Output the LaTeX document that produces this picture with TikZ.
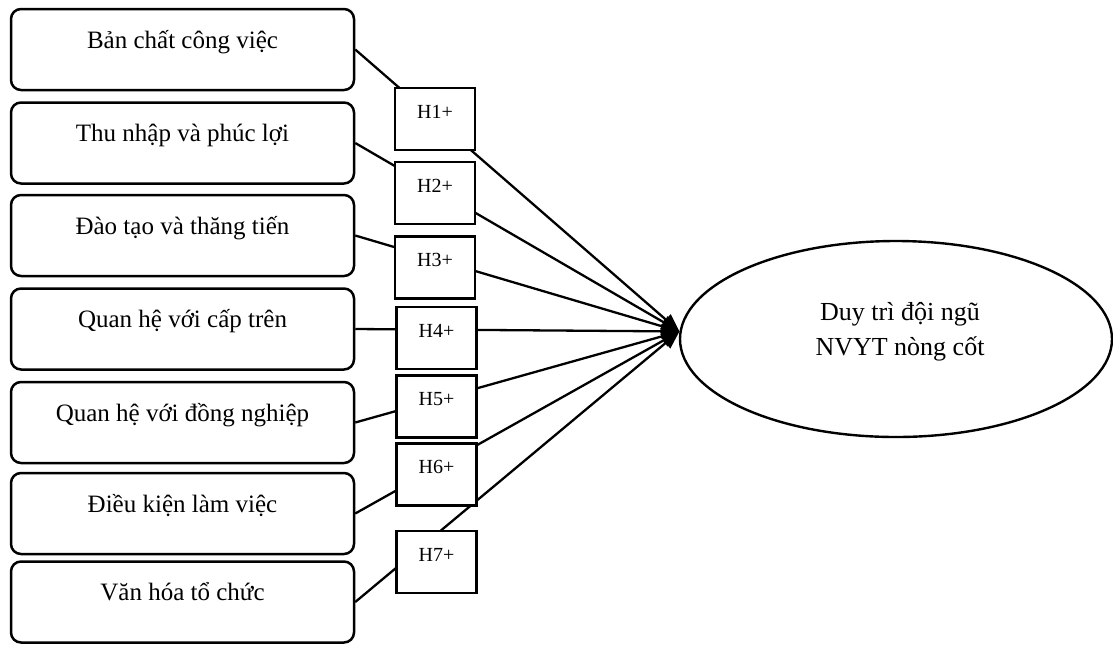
\documentclass[tikz,border=0pt]{standalone}
\usepackage{fontspec}
\setmainfont{Liberation Serif}
\usetikzlibrary{shapes.geometric,arrows.meta}

\begin{document}
\begin{tikzpicture}[x=0.5pt, y=-0.5pt,
    factor/.style={draw, line width=1.25pt, rounded corners=5pt, inner sep=0pt,
        minimum width=171.5pt, text height=19.5pt, text depth=21pt,
        font=\fontsize{12.5}{15}\selectfont},
    hyp/.style={draw, fill=white, line width=1.25pt, inner sep=0pt,
        minimum width=40pt, text height=15pt, text depth=16pt,
        font=\fontsize{10}{12}\selectfont},
    goal/.style={draw, ellipse, line width=1.2pt, minimum width=216pt, minimum height=98pt},
    link/.style={line width=1.15pt, -{Triangle[length=9pt, width=7pt]}}]
            \useasboundingbox (0, 0) rectangle (1113, 644);

            \node[factor] (F1) at (182.5, 49.5) {Bản chất công việc};
            \node[factor] (F2) at (182.5, 143) {Thu nhập và phúc lợi};
            \node[factor] (F3) at (182.5, 235.5) {Đào tạo và thăng tiến};
            \node[factor] (F4) at (182.5, 329) {Quan hệ với cấp trên};
            \node[factor] (F5) at (182.5, 422.5) {Quan hệ với đồng nghiệp};
            \node[factor] (F6) at (182.5, 513.5) {Điều kiện làm việc};
            \node[factor] (F7) at (182.5, 602) {Văn hóa tổ chức};

            \node[goal] (Y) at (896, 339) {};
            \node[align=center, font=\fontsize{13}{17.5}\selectfont] (Ytext) at (900, 332)
                {Duy trì đội ngũ\\NVYT nòng cốt};

            \draw[link] (F1.east) -- (Y.178);
            \draw[link] (F2.east) -- (Y.178);
            \draw[link] (F3.east) -- (Y.178);
            \draw[link] (F4.east) -- (Y.178);
            \draw[link] (F5.east) -- (Y.178);
            \draw[link] (F6.east) -- (Y.178);
            \draw[link] (F7.east) -- (Y.178);

            \node[hyp] (H1) at (435, 119) {H1+};
            \node[hyp] (H2) at (435, 193) {H2+};
            \node[hyp] (H3) at (435, 267.5) {H3+};
            \node[hyp] (H4) at (436.5, 338) {H4+};
            \node[hyp] (H5) at (436.5, 406.5) {H5+};
            \node[hyp] (H6) at (436.5, 474.5) {H6+};
            \node[hyp] (H7) at (436.5, 562) {H7+};
        \end{tikzpicture}
\end{document}
